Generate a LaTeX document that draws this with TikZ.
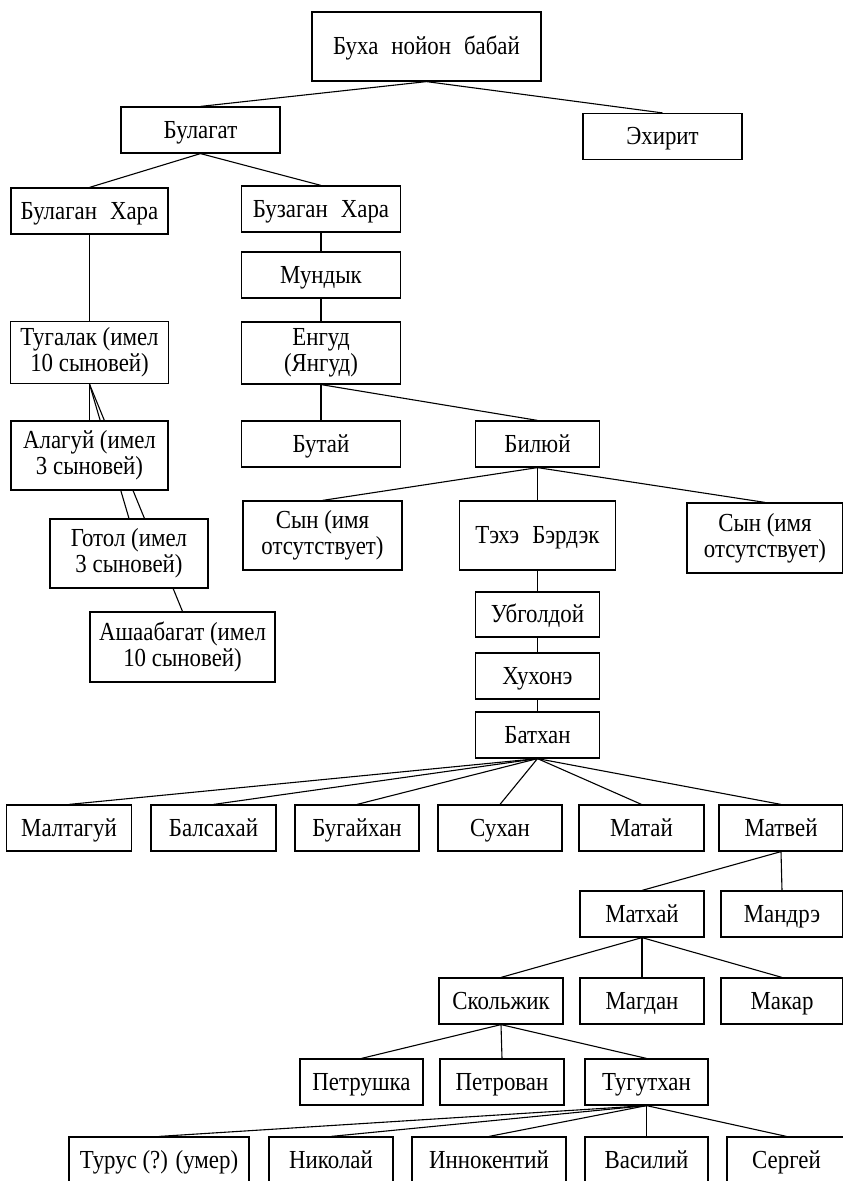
\documentclass[tikz,border=0pt]{standalone}
\usepackage{fontspec}
\setmainfont[FakeStretch=0.88]{Liberation Serif}
\usepackage{tikz}
\usetikzlibrary{positioning,backgrounds}

\begin{document}
\begin{tikzpicture}[
x=1pt,y=-1pt,
font=\fontsize{26}{26}\selectfont,
box/.style={rectangle,draw,fill=white,line width=1.2pt,minimum width=159pt,minimum height=46pt,inner sep=2pt,align=center},
person/.style={box,text height=17pt,text depth=1pt},
tall/.style={box,minimum height=69pt},
narrow/.style={person,minimum width=124pt},
link/.style={line width=1.1pt}
]
\useasboundingbox (0,0) rectangle (843,1181);

\node[person,minimum width=229pt,minimum height=69pt] (buha) at (426.5,46.5) {Буха\enspace нойон\enspace бабай};
\node[person] (bulagat) at (200.5,130) {Булагат};
\node[person] (ekhirit) at (662.5,136.5) {Эхирит};
\node[person,minimum width=157pt] (bulagan) at (89.5,211) {Булаган\enspace Хара};
\node[person] (buzagan) at (321,209) {Бузаган\enspace Хара};
\node[person] (mundyk) at (321,275) {Мундык};
\node[box,minimum height=62pt] (engud) at (321,353) {Енгуд\\(Янгуд)};
\node[box,minimum width=158pt,minimum height=62pt] (tugalak) at (89.5,352.5) {Тугалак (имел\\10 сыновей)};
\node[tall,minimum width=157pt] (alaguy) at (89.5,455.5) {Алагуй (имел\\3 сыновей)};
\node[tall,minimum width=158pt] (gotol) at (129,553.5) {Готол (имел\\3 сыновей)};
\node[tall,minimum width=185pt,minimum height=70pt] (ashaabagat) at (182.5,647) {Ашаабагат (имел\\10 сыновей)};
\node[person] (butay) at (321,444) {Бутай};
\node[narrow] (bilyuy) at (537.5,444) {Билюй};
\node[tall] (synleft) at (322.5,535.5) {Сын (имя\\отсутствует)};
\node[person,minimum width=156pt,minimum height=69pt] (tekhe) at (537.5,535.5) {Тэхэ\enspace Бэрдэк};
\node[tall,minimum width=156pt,minimum height=70pt] (synright) at (765,538) {Сын (имя\\отсутствует)};
\node[narrow,minimum height=45pt] (ubgoldoy) at (537.5,614.5) {Убголдой};
\node[narrow] (khukhone) at (537.5,676) {Хухонэ};
\node[narrow] (batkhan) at (537.5,735) {Батхан};

\node[narrow,minimum width=125pt] (maltaguy) at (69,828) {Малтагуй};
\node[narrow,minimum width=125pt] (balsakhay) at (213.5,828) {Балсахай};
\node[narrow] (bugaykhan) at (357,828) {Бугайхан};
\node[narrow] (sukhan) at (500,828) {Сухан};
\node[narrow,minimum width=125pt] (matay) at (641.5,828) {Матай};
\node[narrow] (matvey) at (781,828) {Матвей};

\node[narrow] (matkhay) at (642,914) {Матхай};
\node[narrow,minimum width=122pt] (mandre) at (782,914) {Мандрэ};
\node[narrow] (skolzhik) at (501,1001) {Скольжик};
\node[narrow] (magdan) at (642,1001) {Магдан};
\node[narrow,minimum width=122pt] (makar) at (782,1001) {Макар};
\node[narrow,minimum width=123pt] (petrushka) at (361.5,1082) {Петрушка};
\node[narrow] (petrovan) at (502,1082) {Петрован};
\node[narrow,minimum width=123pt] (tugutkhan) at (646.5,1082) {Тугутхан};

\node[person,minimum width=180pt] (turus) at (159,1160) {Турус (?) (умер)};
\node[narrow] (nikolay) at (331,1160) {Николай};
\node[narrow,minimum width=154pt] (innokentiy) at (489,1160) {Иннокентий};
\node[narrow,minimum width=123pt] (vasiliy) at (646.5,1160) {Василий};
\node[narrow,minimum width=119pt] (sergey) at (786.5,1160) {Сергей};

\begin{scope}[on background layer]
\draw[link] (buha.south) -- (bulagat.north);
\draw[link] (buha.south) -- (ekhirit.north);
\draw[link] (bulagat.south) -- (bulagan.north);
\draw[link] (bulagat.south) -- (buzagan.north);
\draw[link] (bulagan.south) -- (tugalak.north);
\draw[link] (tugalak.south) -- (alaguy.north);
\draw[link] (tugalak.south) -- (gotol.north);
\draw[link] (tugalak.south) -- (ashaabagat.north);
\draw[link] (buzagan.south) -- (mundyk.north);
\draw[link] (mundyk.south) -- (engud.north);
\draw[link] (engud.south) -- (butay.north);
\draw[link] (engud.south) -- (bilyuy.north);
\draw[link] (bilyuy.south) -- (synleft.north);
\draw[link] (bilyuy.south) -- (tekhe.north);
\draw[link] (bilyuy.south) -- (synright.north);
\draw[link] (tekhe.south) -- (ubgoldoy.north);
\draw[link] (ubgoldoy.south) -- (khukhone.north);
\draw[link] (khukhone.south) -- (batkhan.north);
\foreach \kid in {maltaguy,balsakhay,bugaykhan,sukhan,matay,matvey}
  \draw[link] (batkhan.south) -- (\kid.north);
\draw[link] (matvey.south) -- (matkhay.north);
\draw[link] (matvey.south) -- (mandre.north);
\foreach \kid in {skolzhik,magdan,makar}
  \draw[link] (matkhay.south) -- (\kid.north);
\foreach \kid in {petrushka,petrovan,tugutkhan}
  \draw[link] (skolzhik.south) -- (\kid.north);
\foreach \kid in {turus,nikolay,innokentiy,vasiliy,sergey}
  \draw[link] (tugutkhan.south) -- (\kid.north);
\end{scope}
\end{tikzpicture}
\end{document}
